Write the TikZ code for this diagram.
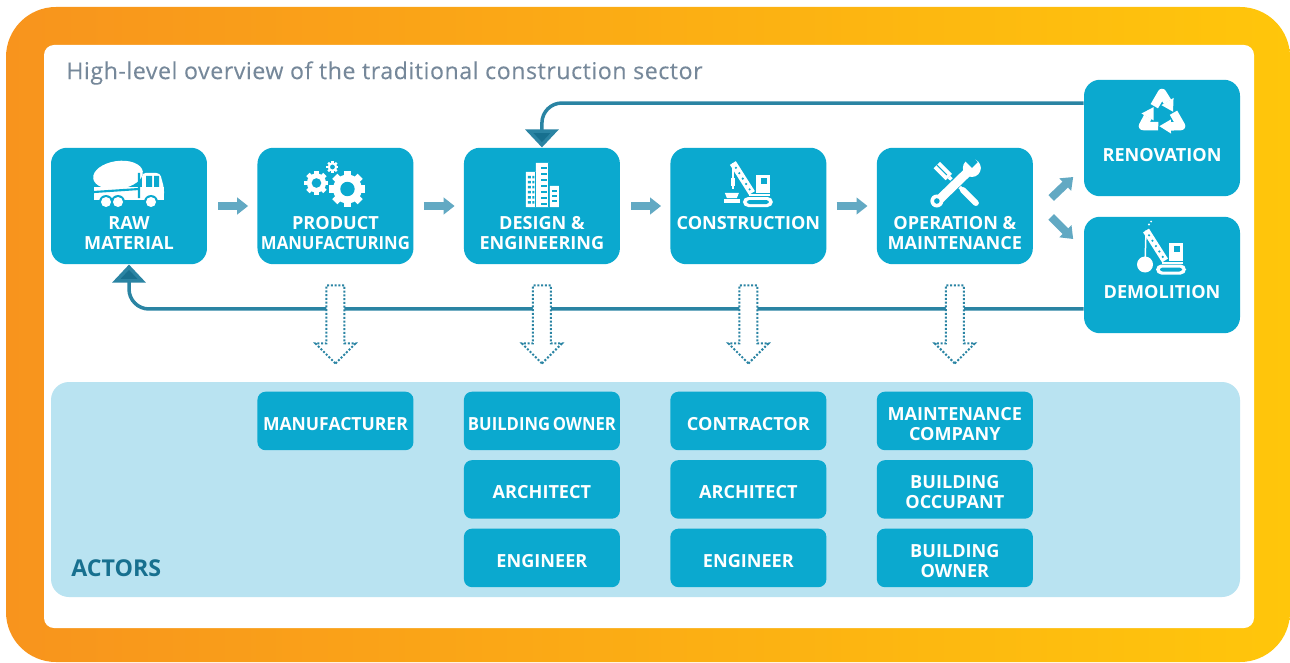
\documentclass[tikz,border=0pt]{standalone}
\usepackage{fontspec}
\setmainfont{Open Sans}
\newfontfamily\titlefont[LetterSpace=2.3,FakeBold=0.12]{Open Sans}
\usetikzlibrary{
  positioning, arrows.meta, shapes.arrows, calc
}
\definecolor{boxblue}{HTML}{0BA9CF}
\definecolor{bandblue}{HTML}{B9E3F1}
\definecolor{flowblue}{HTML}{62A9C3}
\definecolor{loopblue}{HTML}{2A84A3}
\definecolor{headblue}{HTML}{17708F}
\definecolor{titlegrey}{HTML}{76889A}
\definecolor{frameleft}{HTML}{F8941D}
\definecolor{frameright}{HTML}{FFC60B}
\newcommand{\actorstrut}{\rule{0pt}{10.75pt}}
\tikzset{
  stagebox/.style={fill=boxblue, rounded corners=0.32cm, minimum width=3.12cm, minimum height=2.33cm},
  actorbox/.style={fill=boxblue, rounded corners=0.16cm, minimum width=3.12cm, minimum height=1.17cm,
    text=white, font=\fontsize{10.3}{11.3}\selectfont\bfseries, align=center, inner sep=0pt},
  stagetext/.style={text=white, font=\fontsize{10.3}{11.3}\selectfont\bfseries, align=center, inner sep=0pt},
  flow/.style={draw=flowblue, line width=0.16cm, -{Triangle[length=0.22cm,width=0.33cm]}},
  loopback/.style={draw=loopblue, line width=0.07cm, rounded corners=0.4cm,
    -{Triangle[length=0.36cm,width=0.66cm,fill=headblue]}},
  actorarrow/.style={single arrow, draw=loopblue, densely dotted, line width=0.04cm, fill=white,
    minimum height=1.56cm, minimum width=0.76cm, single arrow head extend=0.22cm,
    single arrow tip angle=90, shape border rotate=270, inner sep=0.16cm},
  truck/.pic={
    \fill[white, rotate around={8:(-11,-31)}] (-11,-31) ellipse [x radius=25, y radius=14];
    \fill[white] (-35,-19) rectangle (35,-6);
    \fill[white, rounded corners=2pt] (13,-33) -- (31,-33) -- (35,-18) -- (35,-9) -- (13,-9) -- cycle;
    \fill[boxblue] (17,-30) rectangle (23,-19) (25,-30) rectangle (30,-19);
    \draw[boxblue, line width=1.2pt] (-35,-14) -- (10,-17) (10,-33) -- (10,-8);
    \foreach \wheelx in {-23,-11,22} {
      \fill[boxblue] (\wheelx,-4) circle [radius=7];
      \fill[white] (\wheelx,-4) circle [radius=5];
    }
  },
  crane/.pic={
    \fill[white, rounded corners=3pt] (-15,-5) rectangle (15,5);
    \fill[boxblue, rounded corners=1.5pt] (-11,-2) rectangle (11,2);
    \fill[white] (-2,-27) rectangle (12,-9);
    \fill[boxblue] (3,-24) rectangle (9,-18);
    \fill[white] (-9,-8) -- (12,-8) -- (12,-6) -- (-9,-6) -- cycle;
    \draw[white, line width=0.14cm] (-6,-9) -- (-25,-39);
    \foreach \boomstep in {0.12,0.3,...,0.9}
      \fill[boxblue] ($(-6,-9)!\boomstep!(-25,-39)$) circle [radius=1.2];
  },
  hookload/.pic={
    \draw[white, line width=0.03cm] (-25,-39) -- (-25,-13);
    \fill[white] (-27,-24) rectangle (-23,-16);
    \fill[white] (-33,-9) -- (-19,-9) -- (-21,-4) -- (-31,-4) -- cycle;
    \fill[white] (-34,-3) rectangle (-18,1);
  },
  wreckball/.pic={
    \draw[white, line width=0.03cm] (-25,-39) -- (-26,-5);
    \fill[white] (-26,-5) circle [radius=8];
    \fill[white] (-22,-45) circle [radius=1.2] (-20,-48) circle [radius=1];
  },
  tools/.pic={
    \draw[white, line width=0.18cm] (-18,-41) -- (-6,-29);
    \draw[boxblue, line width=0.02cm] (-18,-41) -- (-8,-31);
    \draw[white, line width=0.07cm] (-6,-29) -- (8,-16);
    \draw[white, line width=0.12cm, line cap=round] (8,-16) -- (21,-3);
    \draw[boxblue, line width=0.22cm] (-14,-8) -- (14,-36);
    \draw[white, line width=0.18cm] (-16,-6) -- (16,-37);
    \fill[white] (-18,-5) circle [radius=6.5];
    \fill[boxblue] (-18,-5) circle [radius=2.8];
    \fill[white] (17,-38) circle [radius=9];
    \fill[boxblue, rotate around={45:(20,-41)}] (16,-51) rectangle (24,-41);
  },
  recycle/.pic={
    \foreach \recyclerot in {0,120,240} {
      \begin{scope}[rotate=\recyclerot, scale=1.1]
        \draw[white, line width=0.17cm, line join=round] (-7,-8) -- (0,-20) -- (5,-12);
        \fill[white] (10.5,-15.5) -- (-0.5,-9) -- (10,-3) -- cycle;
      \end{scope}
    }
  }
}
\newcommand{\gearicon}[3]{
  \begin{scope}[shift={(#1,#2)}]
    \foreach \tooth in {1,...,8}
      \fill[white, rotate=\tooth*45] (0.6*#3,-0.2*#3) rectangle (#3,0.2*#3);
    \fill[white] (0,0) circle [radius=0.8*#3];
    \fill[boxblue] (0,0) circle [radius=0.4*#3];
  \end{scope}
}
\begin{document}
\begin{tikzpicture}[x=0.02cm,y=-0.02cm,on grid,node distance=4.13cm]
  \useasboundingbox (0,0) rectangle (1290,662);
  \shade[left color=frameleft, right color=frameright, rounded corners=1cm] (6,7) rectangle (1290,662);
  \fill[white, rounded corners=0.2cm] (44,45) rectangle (1254,628);
  \node[anchor=west, text=titlegrey, font=\fontsize{13.2}{15}\titlefont, inner sep=0pt] (title) at (66,73)
    {High-level overview of the traditional construction sector};

  % stages
  \node[stagebox] (raw) at (129,206) {};
  \node[stagebox, right=of raw] (product) {};
  \node[stagebox, right=of product] (design) {};
  \node[stagebox, right=of design] (construction) {};
  \node[stagebox, right=of construction] (operation) {};
  \node[stagebox] (renovation) at (1162,138) {};
  \node[stagebox] (demolition) at (1162,275) {};

  \node[stagetext] (rawtext) at ([yshift=-0.54cm]raw.center) {RAW\\MATERIAL};
  \node[stagetext] (producttext) at ([yshift=-0.54cm]product.center) {PRODUCT\\\scalebox{0.925}[1]{MANUFACTURING}};
  \node[stagetext] (designtext) at ([yshift=-0.54cm]design.center) {DESIGN \&\\ENGINEERING};
  \node[stagetext] (constructiontext) at ([yshift=-0.35cm]construction.center) {CONSTRUCTION};
  \node[stagetext] (operationtext) at ([yshift=-0.54cm]operation.center) {OPERATION \&\\MAINTENANCE};
  \node[stagetext] (renovationtext) at ([yshift=-0.34cm]renovation.center) {RENOVATION};
  \node[stagetext] (demolitiontext) at ([yshift=-0.34cm]demolition.center) {DEMOLITION};

  % icons
  \pic at (raw.center) {truck};
  \begin{scope}[shift={(product.center)}]
    \gearicon{12}{-17}{18}
    \gearicon{-19}{-23}{12}
    \gearicon{-3}{-39}{6}
  \end{scope}
  \begin{scope}[shift={(design.center)}]
    \fill[white] (-16,-34) rectangle (-3,1) (-6,-43) rectangle (7,1) (8,-20) rectangle (17,1);
    \draw[boxblue, line width=0.02cm] (-6,-34) -- (-6,1) (7,-43) -- (7,1);
    \foreach \winy in {-30,-25,...,-3} {
      \fill[boxblue] (-14,\winy) rectangle (-11,\winy+2.5) (-9.5,\winy) rectangle (-7.5,\winy+2.5);
    }
    \foreach \winy in {-39,-33,...,-3} \fill[boxblue] (-1,\winy) rectangle (5,\winy+2);
    \foreach \winy in {-16,-11,...,-3} \fill[boxblue] (10,\winy) rectangle (15,\winy+2);
  \end{scope}
  \pic at ([shift={(9.5,-4)}]construction.center) {crane};
  \pic at ([shift={(9.5,-4)}]construction.center) {hookload};
  \pic at (operation.center) {tools};
  \pic at ([shift={(0,-23)}]renovation.center) {recycle};
  \pic at ([shift={(9,-5.5)}]demolition.center) {crane};
  \pic at ([shift={(9,-5.5)}]demolition.center) {wreckball};

  % flow between the stages
  \draw[flow, shorten <=0.22cm, shorten >=0.18cm] (raw) -- (product);
  \draw[flow, shorten <=0.2cm, shorten >=0.18cm] (product) -- (design);
  \draw[flow, shorten <=0.22cm, shorten >=0.18cm] (design) -- (construction);
  \draw[flow, shorten <=0.2cm, shorten >=0.18cm] (construction) -- (operation);
  \coordinate (upstart) at ([shift={(18,-8)}]operation.east);
  \coordinate (upend) at ([shift={(40,-29)}]operation.east);
  \coordinate (downstart) at ([shift={(18,11)}]operation.east);
  \coordinate (downend) at ([shift={(40,33)}]operation.east);
  \draw[flow] (upstart) -- (upend);
  \draw[flow] (downstart) -- (downend);
  \coordinate (renoout) at ([yshift=0.7cm]renovation.west);
  \coordinate (demoout) at ([yshift=-0.68cm]demolition.west);
  \draw[loopback] (renoout) -| (design.north);
  \draw[loopback] (demoout) -| (raw.south);

  % actors
  \fill[bandblue, rounded corners=0.36cm] (51,382) rectangle (1240,597);
  \node[anchor=west, text=headblue, font=\fontsize{13.2}{15}\selectfont\bfseries, inner sep=0pt] (actors) at (71,568) {ACTORS};
  \foreach \stagename in {product,design,construction,operation}
    \node[actorarrow, below=2.28cm of \stagename] (\stagename arrow) {};

  \node[actorbox, below=4.3cm of product] (manufacturer) {\actorstrut\scalebox{0.97}[1]{MANUFACTURER}};
  \node[actorbox, below=4.3cm of design] (owner) {\actorstrut\scalebox{0.92}[1]{BUILDING\kern-1pt\ OWNER}};
  \node[actorbox, below=1.37cm of owner] (designarchitect) {\actorstrut ARCHITECT};
  \node[actorbox, below=1.37cm of designarchitect] (designengineer) {\actorstrut ENGINEER};
  \node[actorbox, below=4.3cm of construction] (contractor) {\actorstrut CONTRACTOR};
  \node[actorbox, below=1.37cm of contractor] (sitearchitect) {\actorstrut ARCHITECT};
  \node[actorbox, below=1.37cm of sitearchitect] (siteengineer) {\actorstrut ENGINEER};
  \node[actorbox, below=4.3cm of operation] (maintenance) {\actorstrut MAINTENANCE\\COMPANY};
  \node[actorbox, below=1.37cm of maintenance] (occupant) {\actorstrut BUILDING\\OCCUPANT};
  \node[actorbox, below=1.37cm of occupant] (buildingowner) {\actorstrut BUILDING\\OWNER};
\end{tikzpicture}
\end{document}
